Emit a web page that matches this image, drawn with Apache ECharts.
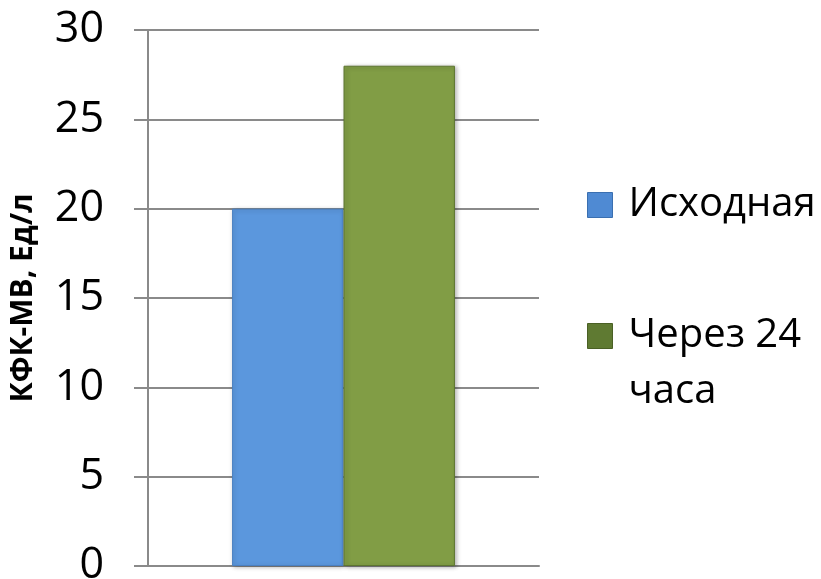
<!DOCTYPE html>
<html>
<head>
<meta charset="utf-8">
<title>КФК-МВ</title>
<script src="https://cdn.jsdelivr.net/npm/echarts@6/dist/echarts.min.js"></script>
<style>
  html, body { margin: 0; padding: 0; background: #ffffff; }
  #chart { width: 821px; height: 579px; }
</style>
</head>
<body>
<div id="chart"></div>
<script>
// Single-category bar chart: CK-MB activity before and 24 h after
const categories = [''];
const seriesNames = ['Исходная', 'Через 24 часа'];
const baselineValues = [20];
const after24hValues = [28];
const yAxisTitle = 'КФК-МВ, Ед/л';

const FONT = '"Open Sans", "Noto Sans", sans-serif';

const chart = echarts.init(document.getElementById('chart'), null, { renderer: 'canvas' });

chart.setOption({
  backgroundColor: '#ffffff',
  animation: false,
  grid: {
    left: 148, right: 282, top: 30, bottom: 13,
    containLabel: false,
    outerBoundsMode: 'none'
  },
  legend: {
    orient: 'vertical',
    left: 587,
    top: 177,
    padding: 0,
    itemWidth: 25,
    itemHeight: 25,
    itemGap: 19,
    icon: 'rect',
    selectedMode: false,
    textStyle: { fontFamily: FONT, fontSize: 40, lineHeight: 56, color: '#000000', padding: [0, 0, 0, 11] },
    data: [
      { name: seriesNames[0], itemStyle: { color: '#4f8ad3', borderColor: '#3a6fb0', borderWidth: 1 } },
      { name: seriesNames[1], itemStyle: { color: '#5f7a32', borderColor: '#4a6025', borderWidth: 1 } }
    ],
    formatter: function (name) {
      // second label wraps onto two lines; leading blank line keeps the icon beside the first one
      return name === seriesNames[1] ? '\nЧерез 24\nчаса' : name;
    }
  },
  xAxis: {
    type: 'category',
    data: categories,
    axisLine: { show: true, lineStyle: { color: '#8a8a8a', width: 2 } },
    axisTick: { show: false },
    axisLabel: { show: false },
    splitLine: { show: false }
  },
  yAxis: {
    type: 'value',
    min: 0,
    max: 30,
    interval: 5,
    name: yAxisTitle,
    nameLocation: 'middle',
    nameGap: 110,
    nameTextStyle: { fontFamily: FONT, fontSize: 30, fontWeight: 'bold', color: '#000000' },
    axisLine: { show: true, lineStyle: { color: '#8a8a8a', width: 2 } },
    axisTick: { show: true, inside: false, length: 14, lineStyle: { color: '#8a8a8a', width: 2 } },
    axisLabel: { fontFamily: FONT, fontSize: 43, color: '#000000', margin: 44 },
    splitLine: { show: true, lineStyle: { color: '#8a8a8a', width: 2 } }
  },
  series: [
    {
      name: seriesNames[0],
      type: 'bar',
      data: baselineValues,
      barGap: '0%',
      barCategoryGap: '43%',
      itemStyle: {
        color: '#5b97dd',
        borderColor: '#4a80c2',
        borderWidth: 1,
        shadowColor: 'rgba(0,0,0,0.25)',
        shadowBlur: 4,
        shadowOffsetX: 1,
        shadowOffsetY: 1
      }
    },
    {
      name: seriesNames[1],
      type: 'bar',
      data: after24hValues,
      barGap: '0%',
      barCategoryGap: '43%',
      itemStyle: {
        color: '#819d45',
        borderColor: '#5d7530',
        borderWidth: 1,
        shadowColor: 'rgba(0,0,0,0.3)',
        shadowBlur: 4,
        shadowOffsetX: 2,
        shadowOffsetY: 1
      }
    }
  ]
});
</script>
</body>
</html>
